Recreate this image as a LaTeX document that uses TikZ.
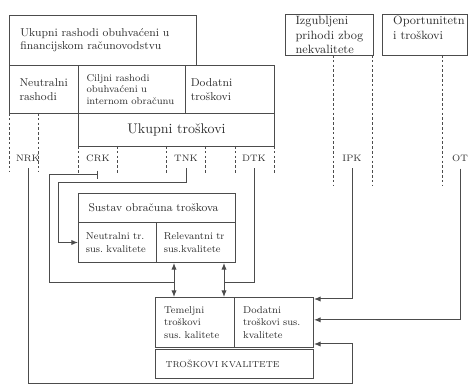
\documentclass[tikz,border=0pt]{standalone}
\usetikzlibrary{arrows.meta}

\tikzset{every picture/.style={line width=0.75pt}}
\colorlet{lineg}{black!70}
\colorlet{textg}{black!82}
\tikzset{
  box/.style={draw=lineg, anchor=north west, inner xsep=8pt, inner ysep=0pt, align=left, text=textg, font=\fontsize{8.5}{10}\selectfont\frenchspacing},
  smallbox/.style={box, inner xsep=5.5pt, font=\fontsize{7.5}{9.2}\selectfont\frenchspacing},
  tag/.style={text=textg, font=\fontsize{7}{8}\selectfont, inner xsep=1pt, inner ysep=5pt},
  conn/.style={draw=lineg},
  arr/.style={conn, -{Latex[length=5pt,width=4pt]}},
  dbl/.style={conn, {Latex[length=5pt,width=4pt]}-{Latex[length=5pt,width=4pt]}},
  bracket/.style={draw=lineg, dash pattern=on 2pt off 1.6pt},
}

\begin{document}
\begin{tikzpicture}[x=0.75pt,y=0.75pt,yscale=-1,xscale=1]
\useasboundingbox (0,0) rectangle (468,388);

% upper boxes
\node[box, minimum width=140.25pt, minimum height=37.5pt, text width=124pt] (finrash) at (9,15) {Ukupni rashodi obuhvaćeni u\\financijskom računovodstvu};
\node[box, inner xsep=7.5pt, minimum width=51.75pt, minimum height=36pt, text width=36.75pt] (neutr) at (9,65) {Neutralni\\rashodi};
\node[smallbox, font=\fontsize{7.5}{8.6}\selectfont, inner xsep=6pt, minimum width=80.25pt, minimum height=36pt, text width=68.25pt] (ciljni) at (78,65) {Ciljni rashodi\\obuhvaćeni u\\internom obračunu};
\node[box, inner xsep=4pt, minimum width=66.75pt, minimum height=36pt, text width=58.75pt] (dodrash) at (185,65) {Dodatni\\troškovi};
\node[box, align=center, font=\fontsize{10.5}{12}\selectfont, minimum width=147pt, minimum height=24.75pt] (ukupni) at (78,113) {Ukupni troškovi};

\node[box, font=\fontsize{9}{11}\selectfont, inner xsep=7.5pt, minimum width=66pt, minimum height=30.75pt, text width=51pt] (izgub) at (285,14) {Izgubljeni\\prihodi zbog\\nekvalitete};
\node[box, font=\fontsize{9}{11}\selectfont, inner xsep=8pt, minimum width=63.75pt, minimum height=30.75pt, text width=47.75pt] (oport) at (382,14) {Oportunitetn\\i troškovi\\\mbox{}};

% brackets
\foreach \x in {9,38} \draw[bracket] (\x,113) -- (\x,172);
\foreach \x in {78,117,166,205,235,274} \draw[bracket] (\x,146) -- (\x,174);
\foreach \x in {333,372,442} \draw[bracket] (\x,55) -- (\x,185);

% cost types
\node[tag] (nrk) at (28,158) {NRK};
\node[tag] (crk) at (98,158) {CRK};
\node[tag] (tnk) at (186,158) {TNK};
\node[tag] (dtk) at (254,158) {DTK};
\node[tag] (ipk) at (352,158) {IPK};
\node[tag] (ot) at (460,158) {OT};

% cost accounting system
\node[box, inner xsep=7.5pt, minimum width=117.75pt, minimum height=21.75pt, text width=102.75pt] (sustav) at (78,193) {Sustav obračuna troškova};
\node[smallbox, minimum width=58.5pt, minimum height=30pt, text width=47.5pt] (neutrtr) at (78,222) {Neutralni tr.\\sus. kvalitete};
\node[smallbox, minimum width=59.25pt, minimum height=30pt, text width=48.25pt] (relev) at (156,222) {Relevantni tr\\sus.kvalitete};

% quality costs
\node[smallbox, inner xsep=6.5pt, minimum width=59.25pt, minimum height=37.5pt, text width=46.25pt] (temelj) at (155,297) {Temeljni\\troškovi\\sus. kalitete};
\node[smallbox, inner xsep=6.5pt, minimum width=59.25pt, minimum height=37.5pt, text width=46.25pt] (dodkval) at (234,297) {Dodatni\\troškovi sus.\\kvalitete};
\node[box, font=\fontsize{6.5}{8}\selectfont, inner xsep=7.5pt, minimum width=118.5pt, minimum height=21.75pt, text width=103.5pt] (trosk) at (155,349) {TROŠKOVI KVALITETE};

\coordinate (ja) at (174,283);
\coordinate (jb) at (224,283);
\coordinate (tnkbend) at (58,183);
\coordinate (foot) at (352,384);

% connectors
\draw[dbl] (ja |- relev.south) -- (ja |- temelj.north);
\draw[dbl] (jb |- relev.south) -- (jb |- temelj.north);
\draw[conn, {Bar[width=6pt]}-] ([yshift=4.5pt]crk.south) -- ++(-49,0) |- (ja);
\draw[arr] (tnk.south) |- (tnkbend) |- (neutrtr.west);
\draw[conn] (dtk.south) |- (jb);
\draw[arr] (ipk.south) |- ([yshift=1.5pt]dodkval.north east);
\draw[arr] (ot.south) |- ([yshift=-2pt]dodkval.east);
\draw[arr] (nrk.south) |- (foot) |- ([yshift=-3pt]dodkval.south east);

\end{tikzpicture}
\end{document}
